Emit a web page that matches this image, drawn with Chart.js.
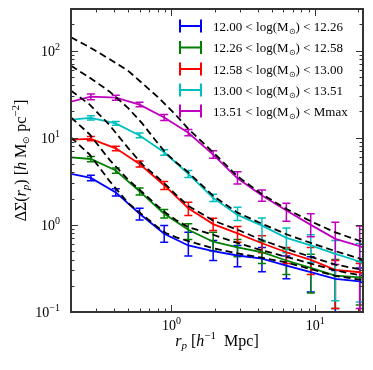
<!DOCTYPE html>
<html lang="en">
<head>
<meta charset="UTF-8" />
<title>Delta Sigma profiles</title>
<script src="https://cdn.jsdelivr.net/npm/chart.js"></script>
<style>
  html, body { margin: 0; padding: 0; background: #fff; }
  canvas { display: block; }
</style>
</head>
<body>
<canvas id="chart" width="373" height="370"></canvas>
<script>
  const SERIF = '"Liberation Serif", "Times New Roman", serif';

  // projected radius of the measured points (h^-1 Mpc)
  const rp = [0.275, 0.41, 0.60, 0.89, 1.31, 1.95, 2.88, 4.26, 6.30, 9.31, 13.8, 20.4];

  const binLabels = [
    ['12.00', '12.26'],
    ['12.26', '12.58'],
    ['12.58', '13.00'],
    ['13.00', '13.51'],
    ['13.51', 'Mmax']
  ];
  const colors = ['#0000ff', '#008000', '#ff0000', '#00bfbf', '#bf00bf'];

  // measured Delta Sigma, with lower / upper error values
  const sig1 = [3.46, 2.36, 1.34, 0.79, 0.58, 0.50, 0.445, 0.41, 0.34, 0.286, 0.24, 0.224];
  const lo1  = [3.20, 2.15, 1.14, 0.63, 0.44, 0.39, 0.33, 0.29, 0.24, 0.17, 0.09, 0.09];
  const hi1  = [3.72, 2.60, 1.55, 0.98, 0.82, 0.66, 0.58, 0.55, 0.44, 0.43, 0.30, 0.32];

  const sig2 = [5.7, 4.2, 2.42, 1.34, 0.88, 0.64, 0.55, 0.485, 0.39, 0.32, 0.262, 0.25];
  const lo2  = [5.3, 3.9, 2.20, 1.20, 0.68, 0.50, 0.43, 0.36, 0.27, 0.165, 0.11, 0.12];
  const hi2  = [6.1, 4.5, 2.65, 1.50, 1.03, 0.82, 0.68, 0.64, 0.53, 0.46, 0.40, 0.38];

  const sig3 = [9.7, 7.56, 5.0, 2.85, 1.55, 1.02, 0.80, 0.615, 0.485, 0.397, 0.305, 0.286];
  const lo3  = [9.2, 7.10, 4.6, 2.55, 1.28, 0.86, 0.63, 0.48, 0.36, 0.27, 0.11, 0.10];
  const hi3  = [10.3, 8.0, 5.4, 3.15, 1.82, 1.19, 0.96, 0.75, 0.55, 0.55, 0.39, 0.36];

  const sig4 = [16.9, 14.6, 10.6, 6.8, 3.85, 2.04, 1.30, 0.98, 0.71, 0.58, 0.465, 0.38];
  const lo4  = [16.0, 13.9, 10.0, 6.3, 3.50, 1.85, 1.12, 0.66, 0.48, 0.37, 0.135, 0.13];
  const hi4  = [17.9, 15.3, 11.3, 7.3, 4.20, 2.25, 1.59, 1.20, 0.92, 0.77, 0.66, 0.61];

  const sig5 = [29.6, 28.8, 24.0, 17.1, 11.4, 6.4, 3.42, 2.17, 1.46, 1.00, 0.69, 0.57];
  const lo5  = [27.2, 27.0, 22.6, 15.8, 10.5, 5.8, 2.95, 1.86, 1.10, 0.73, 0.35, 0.11];
  const hi5  = [31.8, 30.8, 25.6, 18.5, 12.4, 7.1, 4.08, 2.52, 1.77, 1.34, 1.07, 0.97];

  // solid fit lines run past the points to the plot edges
  const lineEdgeR = [0.2, 21.5];
  const lineEdgeLeft = [3.85, 5.96, 9.5, 16.1, 26];
  const lineEdgeRight = [0.215, 0.245, 0.275, 0.36, 0.55];

  // dashed model curves
  const modelR = [0.2, 0.27, 0.37, 0.5, 0.63, 0.81, 0.92, 1.08, 1.31, 1.95, 2.88, 4.26, 6.3, 9.31, 13.8, 20.4, 21.5];
  const model1 = [10.1, 6.4, 3.2, 1.78, 1.3, 0.93, 0.8, 0.72, 0.65, 0.54, 0.47, 0.42, 0.37, 0.31, 0.26, 0.235, 0.23];
  const model2 = [17.1, 10.9, 5.6, 3.3, 2.35, 1.62, 1.36, 1.13, 0.94, 0.77, 0.62, 0.51, 0.43, 0.36, 0.30, 0.265, 0.26];
  const model3 = [34.7, 24, 14, 7.6, 4.9, 3.45, 2.85, 2.2, 1.65, 1.12, 0.88, 0.67, 0.53, 0.43, 0.35, 0.31, 0.30];
  const model4 = [67, 48.8, 34, 21.9, 14.4, 8.5, 6.6, 5.2, 4.0, 2.15, 1.38, 1.03, 0.78, 0.62, 0.50, 0.41, 0.40];
  const model5 = [142, 109, 80, 58.5, 41.8, 29, 23.5, 18, 12.6, 6.8, 3.6, 2.25, 1.52, 1.1, 0.82, 0.655, 0.63];

  const xTickLabels = [[1, '0'], [10, '1']];
  const yTickLabels = [[0.1, '\u22121'], [1, '0'], [10, '1'], [100, '2']];

  const sigs = [sig1, sig2, sig3, sig4, sig5];
  const los = [lo1, lo2, lo3, lo4, lo5];
  const his = [hi1, hi2, hi3, hi4, hi5];
  const models = [model1, model2, model3, model4, model5];

  const datasets = [];
  models.forEach((m, i) => {
    datasets.push({
      data: modelR.map((r, j) => ({ x: r, y: m[j] })),
      borderColor: '#000',
      borderWidth: 1.8,
      borderDash: [7, 4],
      pointRadius: 0,
      showLine: true,
      order: 0
    });
  });
  sigs.forEach((s, i) => {
    const pts = [{ x: lineEdgeR[0], y: lineEdgeLeft[i] }]
      .concat(rp.map((r, j) => ({ x: r, y: s[j] })))
      .concat([{ x: lineEdgeR[1], y: lineEdgeRight[i] }]);
    datasets.push({
      data: pts,
      borderColor: colors[i],
      borderWidth: 1.8,
      pointRadius: 0,
      showLine: true,
      order: 5 - i
    });
  });

  function drawRuns(ctx, runs, x, y, align) {
    let w = 0;
    runs.forEach(r => { ctx.font = r[1]; w += ctx.measureText(r[0]).width; });
    let cx = align === 'center' ? x - w / 2 : (align === 'right' ? x - w : x);
    runs.forEach(r => {
      ctx.font = r[1];
      ctx.fillText(r[0], cx, y + (r[2] || 0));
      cx += ctx.measureText(r[0]).width;
    });
  }

  function logTicks(min, max) {
    const out = [];
    for (let k = Math.floor(Math.log10(min)); k <= Math.ceil(Math.log10(max)); k++) {
      for (let m = 1; m <= 9; m++) {
        const v = m * Math.pow(10, k);
        if (v >= min * 0.999 && v <= max * 1.001) out.push([v, m === 1]);
      }
    }
    return out;
  }

  const decor = {
    id: 'decor',
    beforeDatasetsDraw(chart) {
      const { ctx, chartArea: a, scales: { x, y } } = chart;
      ctx.save();
      ctx.beginPath();
      ctx.rect(a.left, a.top, a.right - a.left, a.bottom - a.top);
      ctx.clip();
      ctx.lineWidth = 1.5;
      sigs.forEach((s, i) => {
        ctx.strokeStyle = colors[i];
        rp.forEach((r, j) => {
          const px = x.getPixelForValue(r);
          const p1 = y.getPixelForValue(los[i][j]);
          const p2 = y.getPixelForValue(his[i][j]);
          ctx.beginPath();
          ctx.moveTo(px, p1); ctx.lineTo(px, p2);
          ctx.moveTo(px - 4, p1); ctx.lineTo(px + 4, p1);
          ctx.moveTo(px - 4, p2); ctx.lineTo(px + 4, p2);
          ctx.stroke();
        });
      });
      ctx.restore();
    },
    afterDraw(chart) {
      const { ctx, chartArea: a, scales: { x, y } } = chart;
      ctx.save();
      // ticks, pointing inward on all four sides
      ctx.strokeStyle = '#333';
      ctx.lineWidth = 1;
      logTicks(x.min, x.max).forEach(([v, major]) => {
        const px = Math.round(x.getPixelForValue(v)) + 0.5;
        const len = major ? 7 : 3.5;
        ctx.beginPath();
        ctx.moveTo(px, a.bottom); ctx.lineTo(px, a.bottom - len);
        ctx.moveTo(px, a.top); ctx.lineTo(px, a.top + len);
        ctx.stroke();
      });
      logTicks(y.min, y.max).forEach(([v, major]) => {
        const py = Math.round(y.getPixelForValue(v)) + 0.5;
        const len = major ? 7 : 3.5;
        ctx.beginPath();
        ctx.moveTo(a.left, py); ctx.lineTo(a.left + len, py);
        ctx.moveTo(a.right, py); ctx.lineTo(a.right - len, py);
        ctx.stroke();
      });
      // frame
      ctx.lineWidth = 2;
      ctx.strokeRect(a.left, a.top, a.right - a.left, a.bottom - a.top);

      ctx.fillStyle = '#000';
      ctx.textBaseline = 'alphabetic';
      const big = '14px ' + SERIF, small = '10px ' + SERIF;
      xTickLabels.forEach(([v, e]) => {
        drawRuns(ctx, [['10', big], [e, small, -6]], x.getPixelForValue(v), a.bottom + 17.5, 'center');
      });
      yTickLabels.forEach(([v, e]) => {
        drawRuns(ctx, [['10', big], [e, small, -6]], a.left - 11, y.getPixelForValue(v) + 5, 'right');
      });

      // axis labels
      const f = '16px ' + SERIF, fi = 'italic 16px ' + SERIF;
      const fs = '11px ' + SERIF, fsi = 'italic 11px ' + SERIF;
      drawRuns(ctx, [['r', fi], ['p', fsi, 3], [' [', f], ['h', fi], ['\u22121', fs, -7], ['  Mpc]', f]],
        (a.left + a.right) / 2, 346, 'center');
      ctx.save();
      ctx.translate(26, (a.top + a.bottom) / 2);
      ctx.rotate(-Math.PI / 2);
      drawRuns(ctx, [['\u0394\u03a3(', f], ['r', fi], ['p', fsi, 3], [') [', f], ['h', fi], [' M', f],
        ['\u2299', '9px ' + SERIF, 3], [' pc', f], ['\u22122', fs, -7], [']', f]], 0, 0, 'center');
      ctx.restore();

      // legend
      const legY = [26, 47.5, 69, 90, 111];
      binLabels.forEach((lab, i) => {
        const cy = legY[i];
        ctx.strokeStyle = colors[i];
        ctx.lineWidth = 2;
        ctx.beginPath();
        ctx.moveTo(180, cy); ctx.lineTo(201, cy);
        ctx.moveTo(180, cy - 6.5); ctx.lineTo(180, cy + 6.5);
        ctx.moveTo(201, cy - 6.5); ctx.lineTo(201, cy + 6.5);
        ctx.stroke();
        ctx.fillStyle = '#000';
        drawRuns(ctx, [[lab[0] + ' < log(M', '13px ' + SERIF], ['\u2299', '8px ' + SERIF, 3],
          [') < ' + lab[1], '13px ' + SERIF]], 213, cy + 4.5, 'left');
      });
      ctx.restore();
    }
  };

  new Chart(document.getElementById('chart'), {
    type: 'scatter',
    data: { datasets: datasets },
    options: {
      responsive: false,
      animation: false,
      layout: { padding: { left: 71, right: 10, top: 9, bottom: 58 } },
      plugins: { legend: { display: false }, tooltip: { enabled: false } },
      scales: {
        x: { type: 'logarithmic', min: 0.2, max: 21.5, display: false },
        y: { type: 'logarithmic', min: 0.1, max: 300, display: false }
      }
    },
    plugins: [decor]
  });
</script>
</body>
</html>
